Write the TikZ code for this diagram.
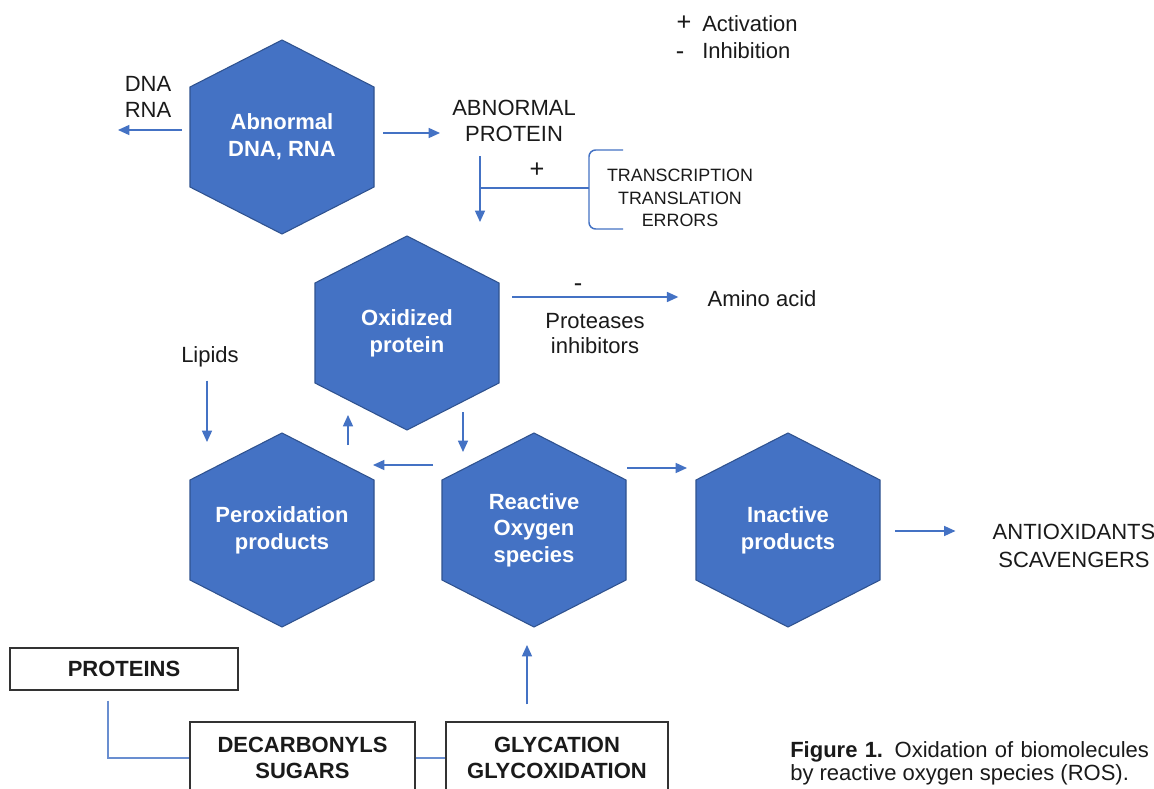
\documentclass[tikz,border=0pt]{standalone}
\usepackage{fontspec}
\setmainfont{Liberation Sans}
\usetikzlibrary{arrows.meta,calc}
\definecolor{hexblue}{HTML}{4472C4}
\definecolor{hexedge}{HTML}{2F528F}
\definecolor{arrblue}{HTML}{4472C4}
\definecolor{ink}{HTML}{1A1A1A}
\definecolor{boxedge}{HTML}{333333}
\newcommand\hexcell[4]{%
  \draw[hexshape] (#2-92,#3-50) -- (#2,#3-97) -- (#2+92,#3-50) -- (#2+92,#3+50) -- (#2,#3+97) -- (#2-92,#3+50) -- cycle;
  \node[hextext] (#1) at (#2,#3) {#4};}
\begin{document}
\begin{tikzpicture}[x=0.75pt,y=-0.75pt,
  hexshape/.style={fill=hexblue,draw=hexedge,line width=0.8pt},
  hextext/.style={text=white,font=\fontsize{16.5}{20}\selectfont\bfseries,align=center,inner sep=0pt},
  lbl/.style={text=ink,font=\fontsize{16.5}{20}\selectfont,align=center,inner sep=0pt},
  sign/.style={text=ink,font=\fontsize{19}{21}\selectfont,inner sep=0pt},
  small/.style={text=ink,font=\fontsize{13.4}{16.9}\selectfont,align=center,inner sep=0pt},
  boxnode/.style={draw=boxedge,line width=1.1pt,fill=white,text=ink,font=\fontsize{16.5}{20}\selectfont\bfseries,align=center,inner sep=0pt},
  arr/.style={draw=arrblue,line width=1.1pt,-{Triangle[length=8.5pt,width=7.5pt]}},
  conn/.style={draw=arrblue,line width=1.1pt}]
\fill[white] (0,0) rectangle (1154,789);
\useasboundingbox (0,0) rectangle (1154,789);

% legend
\node[sign] (lplus) at (684,23) {+};
\node[lbl,anchor=west] (lact) at (702,24) {Activation};
\node[sign] (lminus) at (680,56) {-};
\node[lbl,anchor=west] (linh) at (702,51) {Inhibition};

% hexagons
\hexcell{h1}{282}{137}{Abnormal\\DNA, RNA}
\hexcell{h2}{407}{333}{Oxidized\\protein}
\hexcell{h3}{282}{530}{Peroxidation\\products}
\hexcell{h4}{534}{530}{Reactive\\Oxygen\\species}
\hexcell{h5}{788}{530}{Inactive\\products}

% texts
\node[lbl] (dnarna) at (148,97) {DNA\\RNA};
\node[lbl] (abprot) at (514,121) {ABNORMAL\\PROTEIN};
\node[sign] (plus) at (537,170) {+};
\node[small] (tte) at (680,198) {TRANSCRIPTION\\TRANSLATION\\ERRORS};
\node[sign] (minus) at (578,288) {-};
\node[lbl] (amino) at (762,299) {Amino acid};
\node[lbl,font=\fontsize{16.5}{18.8}\selectfont] (prot) at (595,334) {Proteases\\inhibitors};
\node[lbl] (lipids) at (210,357) {Lipids};
\node[lbl,font=\fontsize{16.5}{21.5}\selectfont] (antiox) at (1074,546) {ANTIOXIDANTS\\SCAVENGERS};

% boxes
\node[boxnode,minimum width=171pt,minimum height=31.5pt] (proteins) at (124,669) {PROTEINS};
\node[boxnode,minimum width=168.75pt,minimum height=54pt] (dec) at (302.5,758) {DECARBONYLS\\SUGARS};
\node[boxnode,minimum width=166.5pt,minimum height=54pt] (gly) at (557,758) {GLYCATION\\GLYCOXIDATION};

% named free ends
\coordinate (dnaend) at (118,130);
\coordinate (bmid) at (589,188);
\coordinate (vjoin) at (480,188);

% connectors
\draw[arr] ($(h1)+(-100,-7)$) -- (dnaend);
\draw[arr] ($(h1)+(101,-4)$) -- ($(abprot.west)+(-12,12)$);
\draw[arr] ($(abprot.south)+(-34,14)$) -- ($(h2)+(73,-111)$);
\draw[conn,rounded corners=5pt] (623,150) -- (589,150) -- (589,229) -- (623,229);
\draw[conn] (bmid) -- (vjoin);
\draw[arr] ($(h2)+(105,-36)$) -- ($(amino.west)+(-29,-2)$);
\draw[arr] ($(lipids.south)+(-3,13)$) -- ($(h3)+(-75,-88)$);
\draw[arr] ($(h3)+(66,-85)$) -- ($(h2)+(-59,82)$);
\draw[arr] ($(h2)+(56,79)$) -- ($(h4)+(-71,-78)$);
\draw[arr] ($(h4)+(-101,-65)$) -- ($(h3)+(91,-65)$);
\draw[arr] ($(h4)+(93,-62)$) -- ($(h5)+(-101,-62)$);
\draw[arr] ($(h5)+(107,1)$) -- ($(antiox.west)+(-37,-15)$);
\draw[arr] ($(gly.north)+(-30,-17)$) -- ($(h4)+(-7,115)$);
\draw[conn,draw=arrblue!80!white] ($(proteins.south)+(-16,10)$) |- (dec.west);
\draw[conn,draw=arrblue!80!white] (dec.east) -- (gly.west);

% caption
\node[text=ink,font=\fontsize{16.5}{18}\selectfont,anchor=west,inner sep=0pt] (cap1) at (790,752) {\makebox[269pt][s]{\textbf{Figure 1.} Oxidation of biomolecules}};
\node[text=ink,font=\fontsize{16.5}{18}\selectfont,anchor=west,inner sep=0pt] (cap2) at (790,775) {by reactive oxygen species (ROS).};
\end{tikzpicture}
\end{document}
